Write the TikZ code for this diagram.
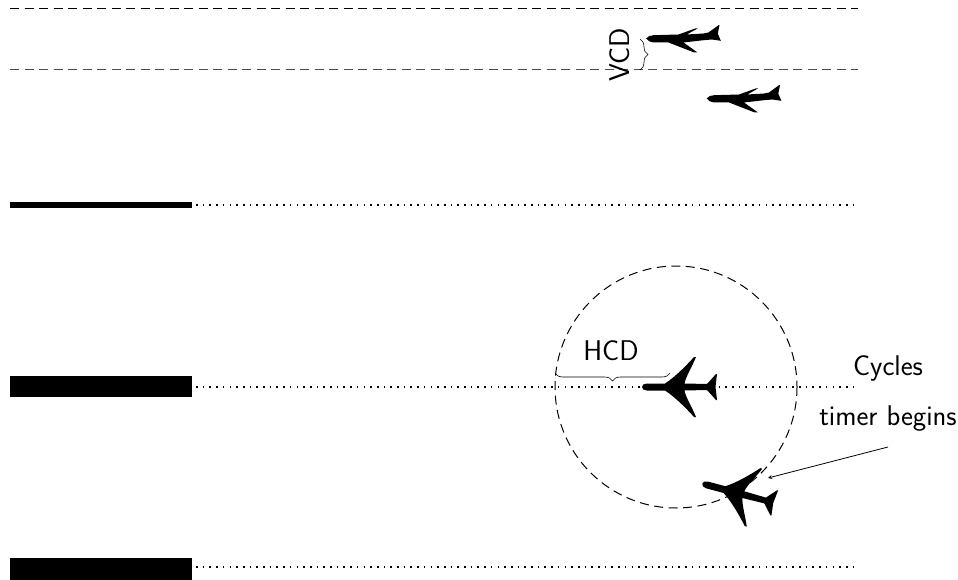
\documentclass[tikz,border=0pt]{standalone}
\usetikzlibrary{decorations.pathreplacing}
\tikzset{
	topplane/.pic={
		\fill (-38,0) .. controls (-38,-2) and (-36,-3.5) .. (-33,-3.5) -- (-15,-3.5)
			.. controls (-5,-10) and (6,-21) .. (14,-30) -- (16,-30)
			.. controls (12,-20) and (6,-11) .. (4.5,-3.5) -- (27,-3)
			-- (36,-13) -- (37,-13)
			-- (35.5,0) -- (37,13) -- (36,13)
			-- (27,3) -- (4.5,3.5)
			.. controls (6,11) and (12,20) .. (16,30) -- (14,30)
			.. controls (6,21) and (-5,10) .. (-15,3.5) -- (-33,3.5)
			.. controls (-36,3.5) and (-38,2) .. (-38,0) -- cycle;
	},
	sideplane/.pic={
		\fill (-37.3,0) .. controls (-36,-2) and (-33,-3.3) .. (-30,-3.3) -- (-5,-4)
			-- (11.7,-10) -- (14,-10) -- (3.3,-4) -- (20,-5)
			-- (25,-6) -- (35,-13.3) -- (36,-13.3) -- (34.3,-5) -- (37.3,2.3) -- (28.3,1)
			-- (20,1.7) -- (0,4) -- (14,14) -- (10.7,14)
			-- (-15,4) -- (-30,4)
			.. controls (-33,4) and (-36,2) .. (-37.3,0) -- cycle;
	}
}
\begin{document}
\begin{tikzpicture}[x=1pt, y=-1pt, font=\sffamily\fontsize{28.5}{34}\selectfont, >=stealth]
	\tikzset{dashline/.style={line width=1pt, dash pattern=on 9pt off 5.5pt},
		dotline/.style={line width=1.6pt, dash pattern=on 1.6pt off 5.1pt},
		thinbrace/.style={line width=0.6pt, decorate, decoration={brace, amplitude=8pt}}}
	\useasboundingbox (0,0) rectangle (958,580);
	% flight levels
	\draw[dashline] (10,9)--(858,9);
	\draw[dashline, black!70] (10,70)--(858,70);
	\draw[line width=5.4pt] (10,205)--(192,205);
	\fill (10,376) rectangle (192,397);
	\fill (10,558) rectangle (192,580);
	\draw[dotline] (196,205)--(855,205);
	\draw[dotline] (196,387)--(855,387);
	\draw[dotline] (196,567)--(855,567);
	% separation circle
	\draw[dashline] (676,387) circle (121);
	% planes
	\pic at (683.5,38.5) {sideplane};
	\pic at (744,98.5) {sideplane};
	\pic at (680,387) {topplane};
	\pic[rotate=-15] at (739,493.5) {topplane};
	% braces
	\coordinate (vcdA) at (640,70);
	\coordinate (vcdB) at (640,39);
	\coordinate (hcdA) at (555,373);
	\coordinate (hcdB) at (670,373);
	\draw[thinbrace] (vcdB)--(vcdA);
	\draw[thinbrace] (hcdB)--(hcdA);
	\node[rotate=90] (vcd) at (620,55) {VCD};
	\node (hcd) at (611,351) {HCD};
	\node (cycles) at (888,368) {Cycles};
	\node (timer) at (888,419) {timer begins};
	\coordinate (arrowstart) at (888,447);
	\coordinate (arrowend) at (768,478);
	\draw[->, line width=0.8pt] (arrowstart)--(arrowend);
\end{tikzpicture}
\end{document}
